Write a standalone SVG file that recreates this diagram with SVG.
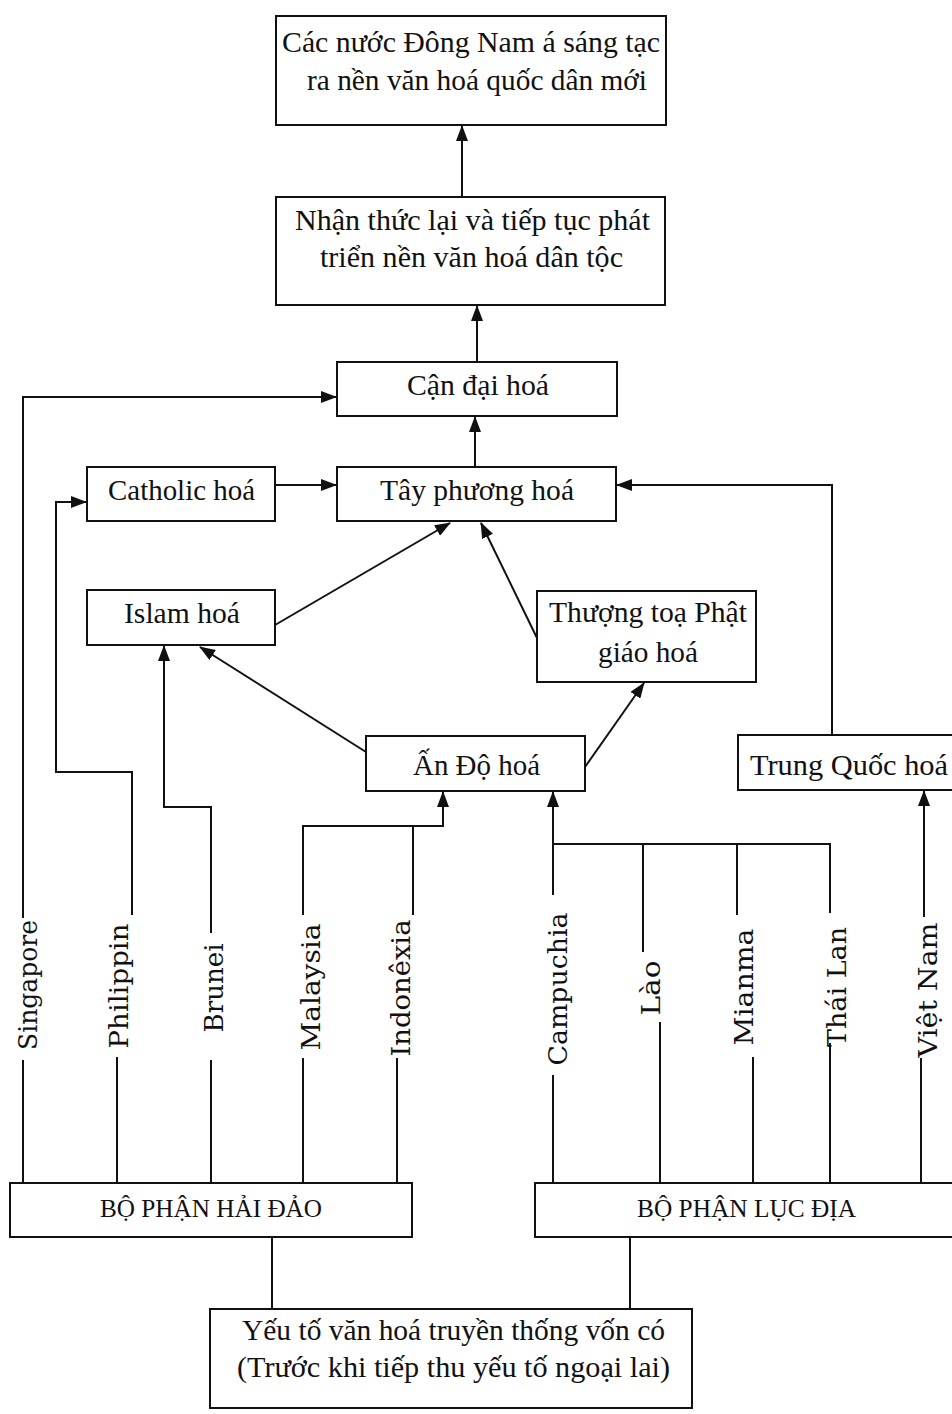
<svg xmlns="http://www.w3.org/2000/svg" width="952" height="1414" viewBox="0 0 952 1414">
<defs>
<style>
.box{fill:#fff;stroke:#111;stroke-width:2}
.t{font-family:"Liberation Serif","Times New Roman",serif;font-size:30px;fill:#111}
.cap{font-family:"Liberation Serif","Times New Roman",serif;font-size:26px;fill:#111}
.v{font-family:"DejaVu Serif","Liberation Serif",serif;font-size:26px;fill:#111}
.c{fill:none;stroke:#111;stroke-width:2}
.a{fill:none;stroke:#111;stroke-width:2;marker-end:url(#ah)}
</style>
<marker id="ah" viewBox="0 0 16 12" refX="15" refY="6" markerWidth="16" markerHeight="12" markerUnits="userSpaceOnUse" orient="auto">
<path d="M0,0 L16,6 L0,12 z" fill="#111"/>
</marker>
</defs>
<rect width="952" height="1414" fill="#fff"/>

<g id="connectors">
<!-- vertical main arrows -->
<path class="a" d="M462,197 V126"/>
<path class="a" d="M477,362 V306"/>
<path class="a" d="M475,467 V417"/>
<!-- Catholic -> Tay -->
<path class="a" d="M275,485 H336"/>
<!-- Trung Quoc -> Tay -->
<path class="a" d="M832,735 V485 H617"/>
<!-- Islam -> Tay -->
<path class="a" d="M275,625 L450,523"/>
<!-- Thuong toa -> Tay -->
<path class="a" d="M537,638 L481,523"/>
<!-- An Do -> Islam -->
<path class="a" d="M366,752 L200,647"/>
<!-- An Do -> Thuong toa -->
<path class="a" d="M585,767 L644,683"/>
<!-- Singapore -> Can dai -->
<path class="a" d="M23,918 V397 H336"/>
<!-- Philippin -> Catholic -->
<path class="a" d="M132,915 V772 H56 V502 H86"/>
<!-- Brunei -> Islam -->
<path class="a" d="M211,933 V807 H164 V646"/>
<!-- Malaysia / Indonexia -> An Do -->
<path class="a" d="M303,915 V826 H443 V792"/>
<path class="c" d="M413,915 V826"/>
<!-- Campuchia group -> An Do -->
<path class="a" d="M553,895 V792"/>
<path class="c" d="M553,844 H830 V913"/>
<path class="c" d="M643,844 V952"/>
<path class="c" d="M737,844 V915"/>
<!-- Viet Nam -> Trung Quoc -->
<path class="a" d="M924,917 V791"/>
<!-- lower segments to the two parts -->
<path class="c" d="M23,1060 V1183"/>
<path class="c" d="M117,1057 V1183"/>
<path class="c" d="M211,1060 V1183"/>
<path class="c" d="M303,1058 V1183"/>
<path class="c" d="M397,1058 V1183"/>
<path class="c" d="M553,1075 V1183"/>
<path class="c" d="M660,1022 V1183"/>
<path class="c" d="M753,1057 V1183"/>
<path class="c" d="M830,1043 V1183"/>
<path class="c" d="M921,1058 V1183"/>
<!-- parts to traditional elements -->
<path class="c" d="M272,1237 V1309"/>
<path class="c" d="M630,1237 V1309"/>
</g>

<g id="n-quocdan">
<rect class="box" x="276" y="16" width="390" height="109"/>
<text class="t" x="282" y="52" textLength="378" lengthAdjust="spacingAndGlyphs">Các nước Đông Nam á sáng tạc</text>
<text class="t" x="307" y="90" textLength="340" lengthAdjust="spacingAndGlyphs">ra nền văn hoá quốc dân mới</text>
</g>
<g id="n-nhanthuc">
<rect class="box" x="276" y="197" width="389" height="108"/>
<text class="t" x="295" y="230" textLength="355" lengthAdjust="spacingAndGlyphs">Nhận thức lại và tiếp tục phát</text>
<text class="t" x="320" y="267" textLength="303" lengthAdjust="spacingAndGlyphs">triển nền văn hoá dân tộc</text>
</g>
<g id="n-candai">
<rect class="box" x="337" y="362" width="280" height="54"/>
<text class="t" x="407" y="395" textLength="142" lengthAdjust="spacingAndGlyphs">Cận đại hoá</text>
</g>
<g id="n-catholic">
<rect class="box" x="87" y="467" width="188" height="54"/>
<text class="t" x="108" y="500" textLength="147" lengthAdjust="spacingAndGlyphs">Catholic hoá</text>
</g>
<g id="n-tayphuong">
<rect class="box" x="337" y="467" width="279" height="54"/>
<text class="t" x="380" y="500" textLength="194" lengthAdjust="spacingAndGlyphs">Tây phương hoá</text>
</g>
<g id="n-islam">
<rect class="box" x="87" y="590" width="188" height="55"/>
<text class="t" x="124" y="623" textLength="116" lengthAdjust="spacingAndGlyphs">Islam hoá</text>
</g>
<g id="n-thuongtoa">
<rect class="box" x="537" y="591" width="219" height="91"/>
<text class="t" x="549" y="622" textLength="198" lengthAdjust="spacingAndGlyphs">Thượng toạ Phật</text>
<text class="t" x="598" y="662" textLength="100" lengthAdjust="spacingAndGlyphs">giáo hoá</text>
</g>
<g id="n-ando">
<rect class="box" x="366" y="736" width="219" height="55"/>
<text class="t" x="413" y="775" textLength="127" lengthAdjust="spacingAndGlyphs">Ấn Độ hoá</text>
</g>
<g id="n-trungquoc">
<rect class="box" x="738" y="735" width="224" height="55"/>
<text class="t" x="750" y="775" textLength="198" lengthAdjust="spacingAndGlyphs">Trung Quốc hoá</text>
</g>

<g id="n-singapore"><text class="v" text-anchor="middle" transform="translate(37,985) rotate(-90)" textLength="130" lengthAdjust="spacingAndGlyphs">Singapore</text></g>
<g id="n-philippin"><text class="v" text-anchor="middle" transform="translate(128,986) rotate(-90)" textLength="125" lengthAdjust="spacingAndGlyphs">Philippin</text></g>
<g id="n-brunei"><text class="v" text-anchor="middle" transform="translate(223,988) rotate(-90)" textLength="89" lengthAdjust="spacingAndGlyphs">Brunei</text></g>
<g id="n-malaysia"><text class="v" text-anchor="middle" transform="translate(320,987) rotate(-90)" textLength="127" lengthAdjust="spacingAndGlyphs">Malaysia</text></g>
<g id="n-indonexia"><text class="v" text-anchor="middle" transform="translate(410,988) rotate(-90)" textLength="137" lengthAdjust="spacingAndGlyphs">Indonêxia</text></g>
<g id="n-campuchia"><text class="v" text-anchor="middle" transform="translate(567,989) rotate(-90)" textLength="153" lengthAdjust="spacingAndGlyphs">Campuchia</text></g>
<g id="n-lao"><text class="v" text-anchor="middle" transform="translate(660,988) rotate(-90)" textLength="55" lengthAdjust="spacingAndGlyphs">Lào</text></g>
<g id="n-mianma"><text class="v" text-anchor="middle" transform="translate(753,987) rotate(-90)" textLength="117" lengthAdjust="spacingAndGlyphs">Mianma</text></g>
<g id="n-thailan"><text class="v" text-anchor="middle" transform="translate(846,987) rotate(-90)" textLength="120" lengthAdjust="spacingAndGlyphs">Thái Lan</text></g>
<g id="n-vietnam"><text class="v" text-anchor="middle" transform="translate(937,990) rotate(-90)" textLength="135" lengthAdjust="spacingAndGlyphs">Việt Nam</text></g>

<g id="n-haidao">
<rect class="box" x="10" y="1183" width="402" height="54"/>
<text class="cap" x="100" y="1217" textLength="222" lengthAdjust="spacingAndGlyphs">BỘ PHẬN HẢI ĐẢO</text>
</g>
<g id="n-lucdia">
<rect class="box" x="535" y="1183" width="427" height="54"/>
<text class="cap" x="637" y="1217" textLength="219" lengthAdjust="spacingAndGlyphs">BỘ PHẬN LỤC ĐỊA</text>
</g>
<g id="n-truyenthong">
<rect class="box" x="210" y="1309" width="482" height="99"/>
<text class="t" x="242" y="1340" textLength="423" lengthAdjust="spacingAndGlyphs">Yếu tố văn hoá truyền thống vốn có</text>
<text class="t" x="237" y="1377" textLength="433" lengthAdjust="spacingAndGlyphs">(Trước khi tiếp thu yếu tố ngoại lai)</text>
</g>
</svg>
